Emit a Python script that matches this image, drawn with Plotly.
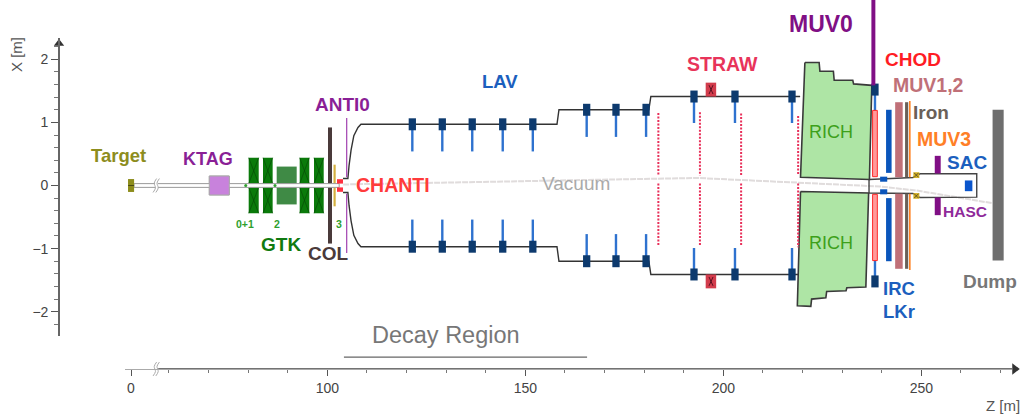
import plotly.graph_objects as go

# ---------- data: detector geometry in metres (Z along the beam, X transverse) ----------
Z_TICKS = [50.43, 100, 150, 200, 250]
Z_TICK_TEXT = ["0", "100", "150", "200", "250"]
Z_MINOR = [60, 70, 80, 90, 110, 120, 130, 140, 160, 170, 180, 190, 210, 220, 230, 240, 260, 270]
X_TICKS = [-2, -1, 0, 1, 2]
X_MINOR = [-2.2, -1.8, -1.6, -1.4, -1.2, -0.8, -0.6, -0.4, -0.2, 0.2, 0.4, 0.6, 0.8, 1.2, 1.4, 1.6, 1.8, 2.2]

VESSEL_Z = [103.96, 105.2, 105.5, 106, 106.7, 107.75, 108.5, 158, 158.5, 181.2, 181.7, 219.4]
VESSEL_X = [0.11, 0.11, 0.32, 0.56, 0.79, 0.92, 0.97, 0.97, 1.2, 1.2, 1.41, 1.41]

LAV_Z = [121.47, 129.04, 136.6, 144.3, 151.9, 165.5, 172.9, 180.5, 192.6, 202.95, 217.35]
LAV_WALL = [0.97, 0.97, 0.97, 0.97, 0.97, 1.2, 1.2, 1.2, 1.41, 1.41, 1.41]
LAV_INNER = [0.54, 0.54, 0.54, 0.54, 0.54, 0.77, 0.77, 0.77, 0.99, 0.99, 0.99]
IRC_LAV_Z = [238.3]
IRC_LAV_WALL = [1.52]
IRC_LAV_INNER = [1.08]

GTK_Z0 = [80.15, 83.76, 93.03, 96.64]
GTK_Z1 = [82.68, 86.2, 95.45, 99.09]
GTK_HALF = 0.44
GTK_MID = (87.22, 92.27, 0.30)
KTAG = (70.2, 75.25, 0.15)
TARGET = (49.7, 51.2, 0.1)
COL = (100.18, 101.19, 0.92)
GOLD = (101.57, 102.12, 0.33)
CHANTI = (102.45, 103.96, 0.03, 0.1)
ANTI0 = (104.9, 0.13, 1.07)

STRAW_X_BLOCK = (195.55, 198.2, 1.41, 1.63)
STRAW_Z = [183.6, 194.1, 204.5, 218.9]
STRAW_TOP = [1.15, 1.16, 1.14, 1.1]
STRAW_BOTTOM = [-0.95, -0.95, -0.95, -0.98]
STRAW_GAP = (0.16, 0.03)

RICH_UP_Z = [220.6, 224.2, 224.4, 227.8, 228, 232.7, 232.9, 237.5, 236.9, 219.5, 220.6]
RICH_UP_X = [1.95, 1.95, 1.81, 1.81, 1.667, 1.667, 1.61, 1.587, 0.095, 0.13, 1.95]
RICH_LOW_Z = [219.5, 236.7, 236, 231.2, 231, 226.1, 225.9, 222.3, 222.1, 218.7, 219.5]
RICH_LOW_X = [-0.095, -0.12, -1.61, -1.62, -1.667, -1.68, -1.78, -1.8, -1.916, -1.905, -0.095]

PIPE_Z = [236.8, 247.9, 249.7, 264, 264, 249.7, 247.9, 236.8]
PIPE_X = [0.095, 0.127, 0.186, 0.186, -0.185, -0.19, -0.127, -0.12]

MUV0 = (237.4, 238.4, 1.587, 2.94)
CHOD = (237.7, 238.9, 0.14, 1.19)
LKR = (241.1, 242.5, 0.2, 1.2)
LKR_SQ = (239.6, 241.4, 0.06, 0.14)
MUV12 = (243.4, 245.3, 0.13, 1.32)
IRON = (245.9, 246.7, 0.13, 1.32)
MUV3 = (246.9, 247.3, 0.13, 1.34)
YELLOW = (248, 249.5, 0.12, 0.21)
SAC = (261, 262.9, -0.09, 0.08)
HASC = (253.4, 254.9, 0.19, 0.47)
DUMP = (268, 270.8, -1.19, 1.2)

VACUUM_Z = [104, 193.4, 239.6, 248.9, 267.9]
VACUUM_X = [0.016, 0.12, -0.016, -0.08, -0.28]
BEAM_Z = (51.2, 103.0)
BEAM_HALF = 0.03
DECAY_Z = [104.2, 165.6]
DECAY_X = [-2.72, -2.72]

LABELS = [
    ("Target", 118, 156, "#8d8d1d", 18.5, True), ("KTAG", 208, 159, "#8a1f96", 18, True),
    ("ANTI0", 342, 104, "#8a1f96", 19, True), ("LAV", 500, 81, "#1c5fbe", 18.5, True),
    ("STRAW", 722, 64, "#e8345a", 19.5, True), ("MUV0", 821, 24, "#800f85", 23, True),
    ("CHOD", 913, 60, "#ff1c24", 19, True), ("MUV1,2", 928, 85, "#c07078", 19.5, True),
    ("Iron", 931, 113, "#6a6058", 19, True), ("MUV3", 944, 139, "#ff7f27", 19.5, True),
    ("SAC", 967, 162, "#1c5fbe", 19, True), ("HASC", 965, 211, "#8f2a9a", 15.5, True),
    ("CHANTI", 393, 185, "#ff3b3b", 19.5, True), ("Vacuum", 576, 183, "#aaaaaa", 19, False),
    ("RICH", 831, 132, "#3da01a", 18, False), ("RICH", 831, 243, "#3da01a", 18, False),
    ("IRC", 899, 288, "#1c5fbe", 18.5, True), ("LKr", 899, 311, "#1c5fbe", 18.5, True),
    ("Dump", 990, 281, "#777777", 19, True), ("GTK", 281, 244, "#107a10", 19, True),
    ("COL", 328, 253, "#4a3a3a", 19, True), ("0+1", 245, 224, "#2ea02e", 10.5, True),
    ("2", 277, 224, "#2ea02e", 10.5, True), ("3", 339, 224, "#2ea02e", 10.5, True),
    ("Decay Region", 446, 335, "#777777", 23.5, False),
    ("Z [m]", 1003, 405, "#555555", 15, False),
]

W, H = 1027, 419
fig = go.Figure()


def rect(z0, z1, x0, x1, fill, edge=None, lw=0):
    fig.add_trace(go.Scatter(x=[z0, z1, z1, z0, z0], y=[x0, x0, x1, x1, x0], mode="lines", fill="toself",
                             fillcolor=fill, line=dict(color=edge or fill, width=lw if edge else 0),
                             hoverinfo="skip", showlegend=False))


def line(zs, xs, color, width, dash=None, shape="linear"):
    fig.add_trace(go.Scatter(x=zs, y=xs, mode="lines", line=dict(color=color, width=width, dash=dash, shape=shape),
                             hoverinfo="skip", showlegend=False))


def cross(z0, z1, x0, x1, color, width=0.7):
    line([z0, z1, None, z0, z1], [x0, x1, None, x1, x0], color, width)


def both(z0, z1, a, b, fill, **kw):
    rect(z0, z1, a, b, fill, **kw)
    rect(z0, z1, -a, -b, fill, **kw)


# vacuum envelope
line(VACUUM_Z, VACUUM_X, "#e0dcdc", 2, dash="6px,1px")

# vessel
for s in (1, -1):
    line(VESSEL_Z, [s * v for v in VESSEL_X], "#333333", 1.4)
line(PIPE_Z + PIPE_Z[:1], PIPE_X + PIPE_X[:1], "#444444", 1.4)

# RICH
rect_kw = dict(mode="lines", fill="toself", fillcolor="#aee5a5", line=dict(color="#3a3a3a", width=1.6),
               hoverinfo="skip", showlegend=False)
fig.add_trace(go.Scatter(x=RICH_UP_Z, y=RICH_UP_X, **rect_kw))
fig.add_trace(go.Scatter(x=RICH_LOW_Z, y=RICH_LOW_X, **rect_kw))

# LAV stations
for zc, w, inner in zip(LAV_Z + IRC_LAV_Z, LAV_WALL + IRC_LAV_WALL, LAV_INNER + IRC_LAV_INNER):
    for s in (1, -1):
        line([zc, zc], [s * w, s * inner], "#2e72cf", 2.4)
        rect(zc - 0.92, zc + 0.92, s * w - 0.095, s * w + 0.095, "#0d3a6e")

# STRAW
for s in (1, -1):
    rect(STRAW_X_BLOCK[0], STRAW_X_BLOCK[1], s * STRAW_X_BLOCK[2], s * STRAW_X_BLOCK[3], "#d23c4c")
    cross(196.4, 197.4, s * 1.45, s * 1.59, "#5a1020", 1)
for zc, top, bot in zip(STRAW_Z, STRAW_TOP, STRAW_BOTTOM):
    line([zc, zc, None, zc, zc], [top, STRAW_GAP[0], None, STRAW_GAP[1], bot], "#e8305a", 2, dash="2px,1.5px")

# Upstream
rect(TARGET[0], TARGET[1], -TARGET[2], TARGET[2], "#8d8d1d")
rect(KTAG[0], KTAG[1], -KTAG[2], KTAG[2], "#c882dc", edge="#aaaaaa", lw=1)
for z0, z1 in zip(GTK_Z0, GTK_Z1):
    rect(z0, z1, -GTK_HALF, GTK_HALF, "#0a7a0a")
    cross(z0, z1, 0.03, GTK_HALF, "#064d06")
    cross(z0, z1, -GTK_HALF, -0.03, "#064d06")
rect(GTK_MID[0], GTK_MID[1], -GTK_MID[2], GTK_MID[2], "#3f8a45")
rect(COL[0], COL[1], -COL[2], COL[2], "#4a3a3a")
rect(GOLD[0], GOLD[1], -GOLD[2], GOLD[2], "#d4b040")
rect(BEAM_Z[0], BEAM_Z[1], -BEAM_HALF, BEAM_HALF, "#ffffff", edge="#9a9a9a", lw=1)
rect(KTAG[0], KTAG[1], -KTAG[2], KTAG[2], "#c882dc", edge="#aaaaaa", lw=1)
both(CHANTI[0], CHANTI[1], CHANTI[2], CHANTI[3], "#ff3040")
rect(TARGET[0], TARGET[1], -TARGET[2], TARGET[2], "#8d8d1d")
line(TARGET[:2], [0, 0], "#4a4a10", 1)
fig.add_trace(go.Scatter(x=[79.4, 86.8], y=[0, 0], mode="markers",
                         marker=dict(color="#2ea02e", size=3), hoverinfo="skip", showlegend=False))
for s in (1, -1):
    line([ANTI0[0], ANTI0[0]], [s * ANTI0[1], s * ANTI0[2]], "#a040b0", 1.2)

# beam-pipe break
rect(56.5, 57.25, -0.05, 0.05, "#ffffff")
line([56.0, 56.6, 56.3, 56.9], [-0.11, -0.04, 0.04, 0.11], "#aaaaaa", 1, shape="spline")
line([56.7, 57.3, 57.0, 57.6], [-0.11, -0.04, 0.04, 0.11], "#aaaaaa", 1, shape="spline")

# Downstream
both(CHOD[0], CHOD[1], CHOD[2], CHOD[3], "#ff9a9a", edge="#ff2a2a", lw=1)
rect(MUV0[0], MUV0[1], MUV0[2], MUV0[3], "#800f85")
both(LKR[0], LKR[1], LKR[2], LKR[3], "#0a55bb")
both(LKR_SQ[0], LKR_SQ[1], LKR_SQ[2], LKR_SQ[3], "#0a55bb")
both(MUV12[0], MUV12[1], MUV12[2], MUV12[3], "#c07078")
both(IRON[0], IRON[1], IRON[2], IRON[3], "#6a6058")
both(MUV3[0], MUV3[1], MUV3[2], MUV3[3], "#ff8020")
both(YELLOW[0], YELLOW[1], YELLOW[2], YELLOW[3], "#d4b020")
for s in (1, -1):
    cross(248.2, 249.3, s * 0.13, s * 0.2, "#333333")
rect(SAC[0], SAC[1], SAC[2], SAC[3], "#0a55cc")
both(HASC[0], HASC[1], HASC[2], HASC[3], "#800f85")
rect(DUMP[0], DUMP[1], DUMP[2], DUMP[3], "#6e6e6e")

# Decay region bar
line(DECAY_Z, DECAY_X, "#666666", 1.2)

# Axis decorations on main axes
AXIS_X = (185.5 - 369) / 63.1
line([57.25, 272.9], [AXIS_X, AXIS_X], "#444444", 1.6)
fig.add_trace(go.Scatter(x=[273.6], y=[AXIS_X], mode="markers",
                         marker=dict(symbol="triangle-right", size=10, color="#333333"),
                         hoverinfo="skip", showlegend=False))
AXIS_Y_Z = 100 + (59 - 327.3) / 3.96
fig.add_trace(go.Scatter(x=[AXIS_Y_Z], y=[2.25], mode="markers",
                         marker=dict(symbol="triangle-up", size=9, color="#333333"),
                         hoverinfo="skip", showlegend=False))
# x-axis break
rect(56.4, 57.3, AXIS_X - 0.03, AXIS_X + 0.03, "#ffffff")
line([56.0, 56.6, 56.3, 56.9], [AXIS_X - 0.11, AXIS_X - 0.04, AXIS_X + 0.04, AXIS_X + 0.11], "#aaaaaa", 1, shape="spline")
line([56.7, 57.3, 57.0, 57.6], [AXIS_X - 0.11, AXIS_X - 0.04, AXIS_X + 0.04, AXIS_X + 0.11], "#aaaaaa", 1, shape="spline")

# trace that carries the visible axes
fig.add_trace(go.Scatter(x=[100], y=[0], xaxis="x2", yaxis="y2", mode="markers", marker=dict(opacity=0),
                         hoverinfo="skip", showlegend=False))

for text, px, py, color, size, bold in LABELS:
    fig.add_annotation(text=f"<b>{text}</b>" if bold else text, x=px / W, y=1 - py / H, xref="paper", yref="paper",
                       showarrow=False, xanchor="center", yanchor="middle",
                       font=dict(family="Liberation Sans", size=size, color=color))
fig.add_annotation(text="X [m]", x=17 / W, y=1 - 55 / H, xref="paper", yref="paper", showarrow=False,
                   textangle=-90, xanchor="center", yanchor="middle",
                   font=dict(family="Liberation Sans", size=15, color="#555555"))

tick_font = dict(family="Liberation Sans", size=14, color="#444444")
fig.update_layout(
    width=W, height=H,
    margin=dict(l=0, r=0, t=0, b=0), paper_bgcolor="white", plot_bgcolor="rgba(0,0,0,0)",
    hovermode=False, showlegend=False,
    xaxis=dict(domain=[0, 1], range=[100 - 327.3 / 3.96, 100 + (W - 327.3) / 3.96], visible=False, fixedrange=True),
    yaxis=dict(domain=[0, 1], range=[(185.5 - H) / 63.1, 185.5 / 63.1], visible=False, fixedrange=True),
    xaxis2=dict(domain=[125 / W, 1012 / W], range=[100 + (125 - 327.3) / 3.96, 100 + (1012 - 327.3) / 3.96],
                anchor="free", position=1 - 369 / H, showgrid=False, zeroline=False,
                showline=True, linecolor="#aaaaaa", linewidth=1, tickmode="array", tickvals=Z_TICKS,
                ticktext=Z_TICK_TEXT, ticks="outside", ticklen=6, tickcolor="#555555", tickwidth=1,
                tickfont=tick_font, fixedrange=True,
                minor=dict(tickmode="array", tickvals=Z_MINOR, ticks="outside", ticklen=3, tickcolor="#777777")),
    yaxis2=dict(domain=[1 - 336 / H, 1 - 38 / H], range=[(185.5 - 336) / 63.1, (185.5 - 38) / 63.1],
                anchor="free", position=59 / W, showgrid=False, zeroline=False,
                showline=True, linecolor="#666666", linewidth=1.6, tickmode="array", tickvals=X_TICKS,
                ticks="outside", ticklen=7, tickcolor="#555555", tickwidth=1, tickfont=tick_font, fixedrange=True,
                minor=dict(tickmode="array", tickvals=X_MINOR, ticks="outside", ticklen=4, tickcolor="#777777")),
)
fig.write_html("out.html", config=dict(displayModeBar=False),
               post_script="document.body.style.margin='0';document.body.style.overflow='hidden';")
